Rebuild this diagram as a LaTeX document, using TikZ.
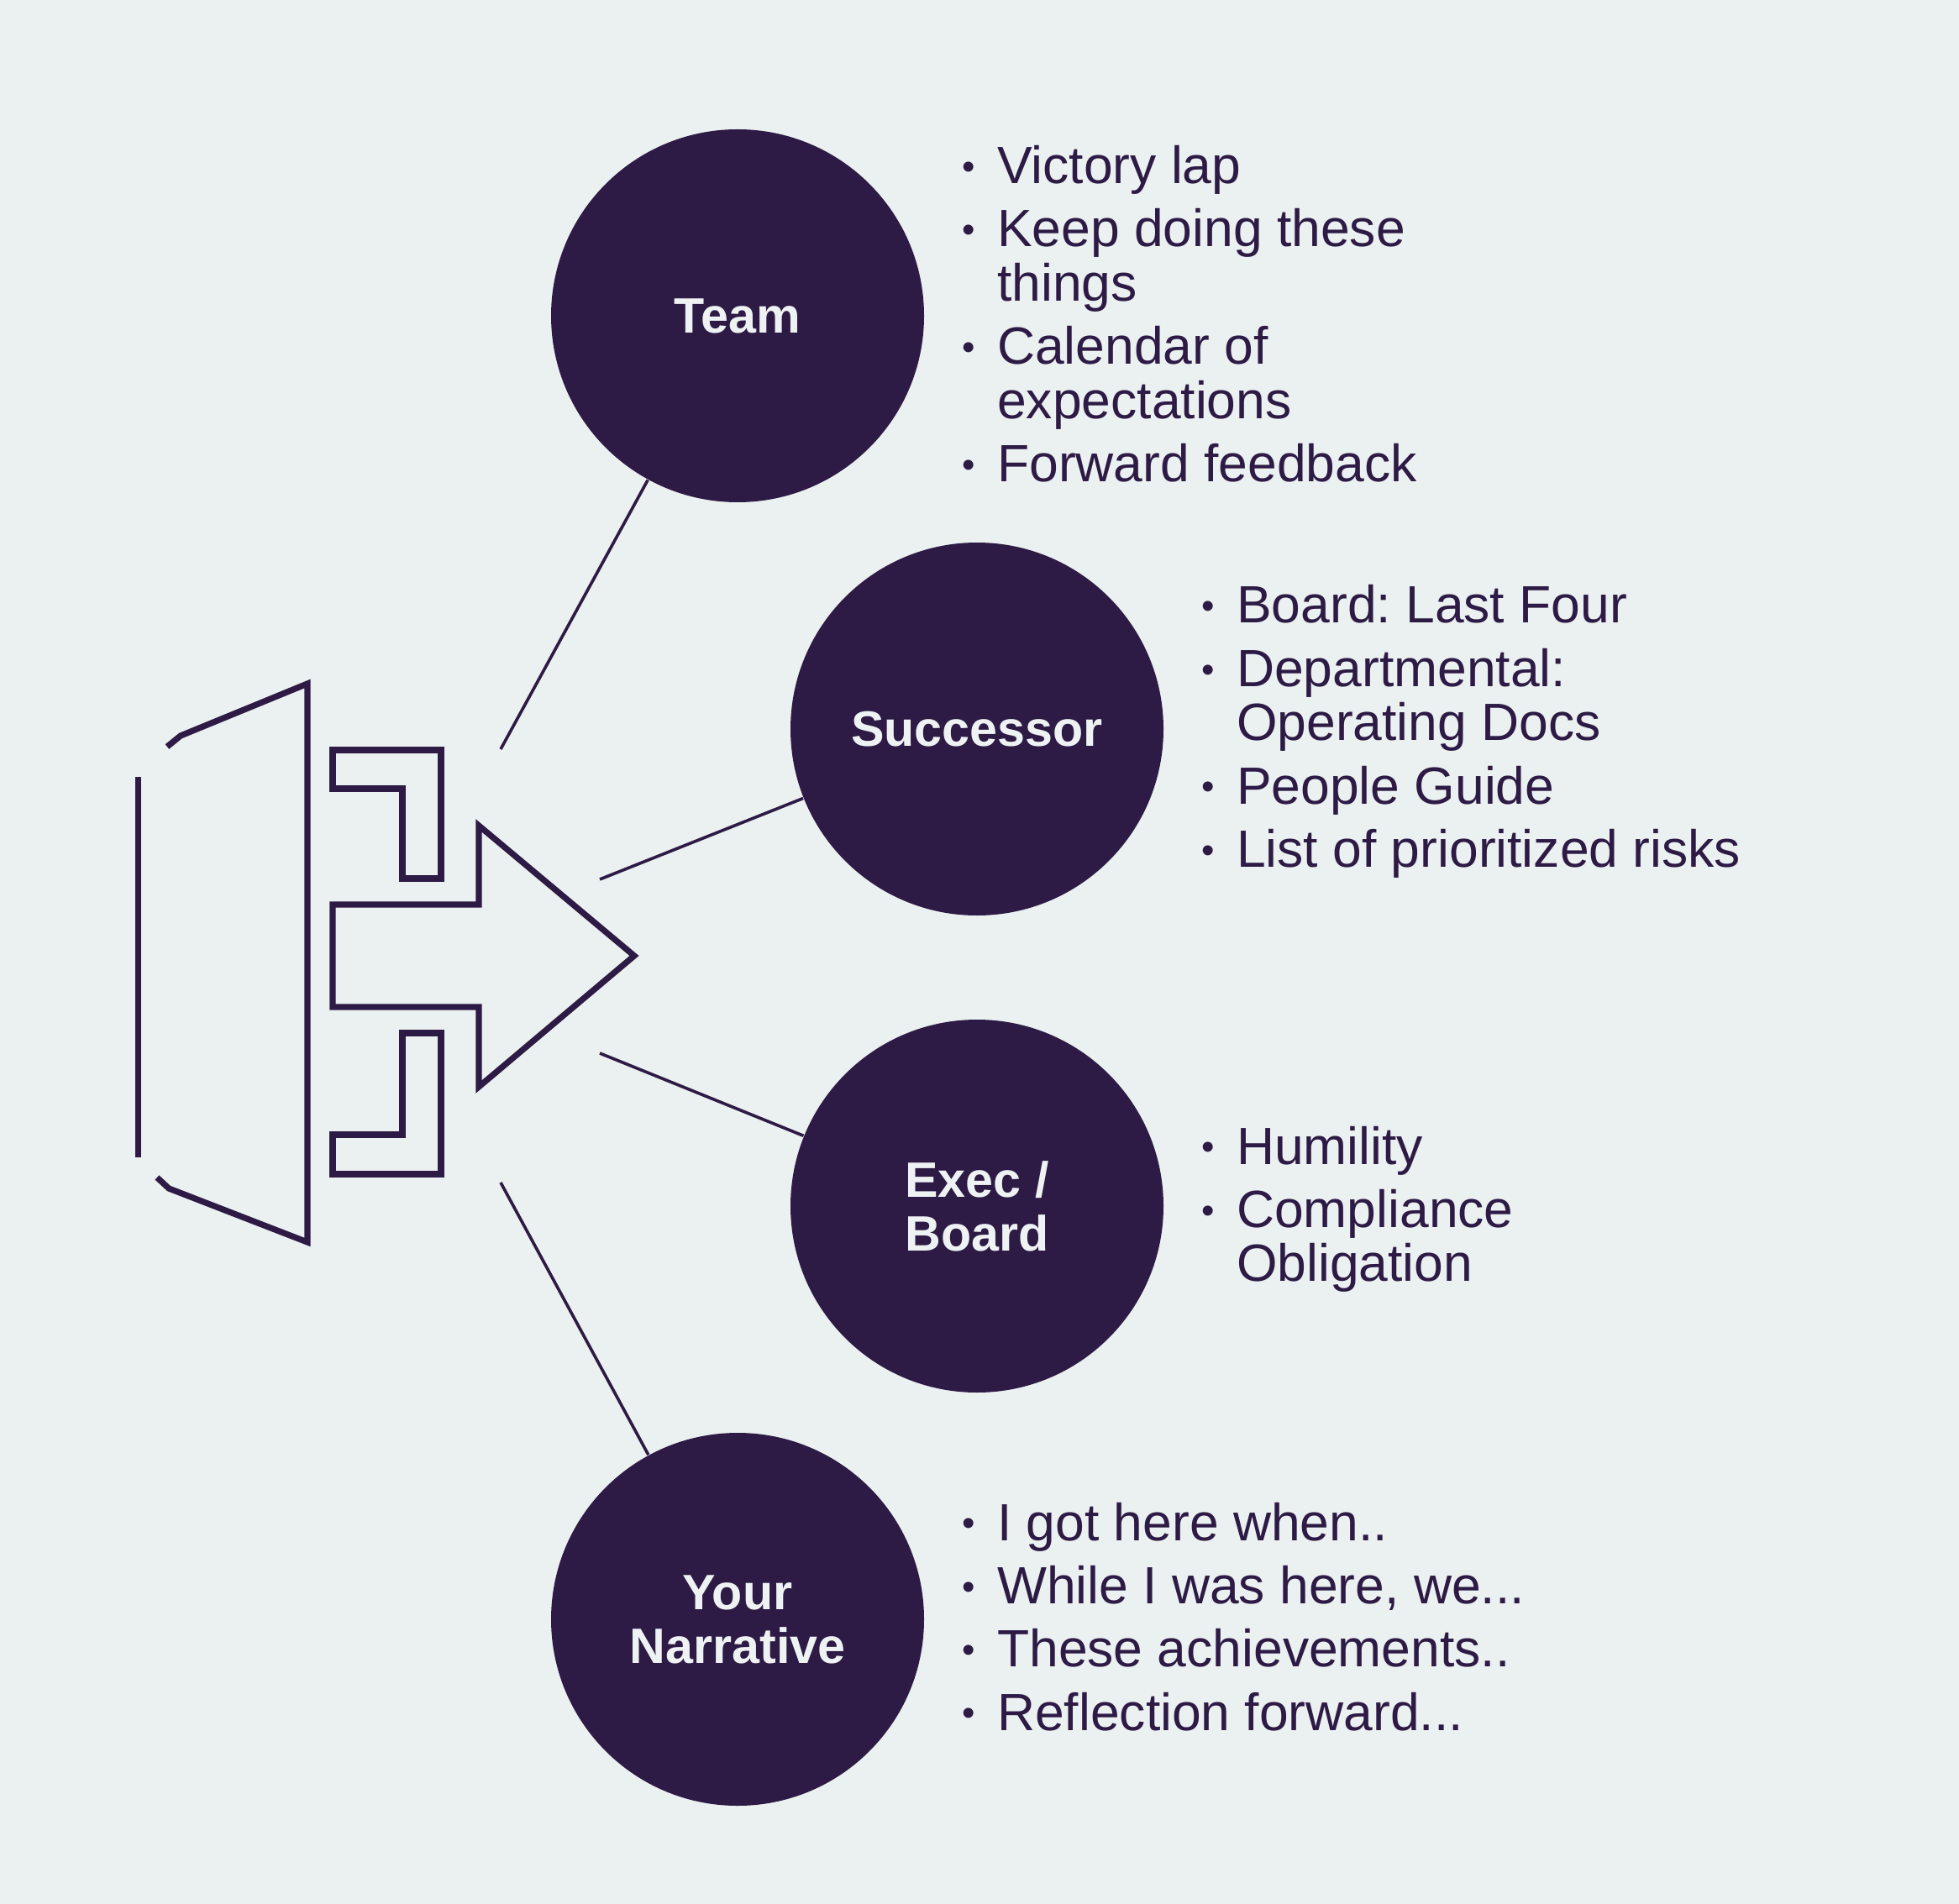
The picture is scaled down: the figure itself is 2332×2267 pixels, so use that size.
\documentclass[tikz,border=0pt]{standalone}
\usepackage{fontspec}
\setmainfont{Liberation Sans}
\usepackage{xcolor}
\usepackage{tikz}
\usetikzlibrary{positioning}
\definecolor{plum}{HTML}{2D1B45}
\definecolor{paper}{HTML}{EBF0F0}
\definecolor{chalk}{HTML}{EEF2F3}
\newcommand{\dotitem}{\raisebox{1.35pt}{\fontsize{11}{11}\selectfont\textbullet}}
\frenchspacing

\begin{document}
\begin{tikzpicture}[
    x=0.25pt,y=-0.25pt,
    hub/.style={circle,fill=plum,minimum size=111pt,inner sep=0pt,align=center,
                text=chalk,font=\bfseries\fontsize{14.8}{16}\selectfont},
    items/.style={anchor=base west,inner sep=0pt,text=plum,
                  font=\fontsize{15.6}{16}\selectfont},
    spoke/.style={draw=plum,line width=0.9pt},
    icon/.style={draw=plum,line width=1.8pt,line join=miter}
  ]

  \fill[paper] (0,0) rectangle (2332,2267);

  % exit icon
  \draw[icon] (199,889) -- (215,876) -- (366,814) -- (366,1479) -- (201,1415) -- (187,1402);
  \draw[icon] (164.5,925) -- (164.5,1378);
  \draw[icon] (396,893) -- (525,893) -- (525,1046) -- (479,1046) -- (479,939) -- (396,939) -- cycle;
  \draw[icon] (396,1077) -- (570,1077) -- (570,983) -- (755,1138) -- (570,1294) -- (570,1199)
              -- (396,1199) -- cycle;
  \draw[icon] (396,1398) -- (525,1398) -- (525,1230) -- (479,1230) -- (479,1351) -- (396,1351) -- cycle;

  % hubs
  \node[hub] (team) at (878,376)  {Team};
  \node[hub] (succ) at (1163,868) {Successor};
  \node[hub] (exec) at (1163,1436) {Exec /\\Board};
  \node[hub] (narr) at (878,1928) {Your\\Narrative};

  % spokes
  \coordinate (s1) at (596,892);
  \coordinate (s2) at (714,1047);
  \coordinate (s3) at (714,1254);
  \coordinate (s4) at (596,1408);
  \draw[spoke] (s1) -- (team);
  \draw[spoke] (s2) -- (succ);
  \draw[spoke] (s3) -- (exec);
  \draw[spoke] (s4) -- (narr);

  % lists
  \node[items] (teamlist) at (1145,218.5) {\begin{tabular}[t]{@{}l@{\hspace{6.5pt}}l@{}}
      \dotitem & Victory lap\\[2.75pt]
      \dotitem & Keep doing these\\
               & things\\[2.75pt]
      \dotitem & Calendar of\\
               & expectations\\[2.75pt]
      \dotitem & Forward feedback
    \end{tabular}};
  \node[items] (succlist) at (1430,742) {\begin{tabular}[t]{@{}l@{\hspace{6.5pt}}l@{}}
      \dotitem & Board: Last Four\\[2.75pt]
      \dotitem & Departmental:\\
               & Operating Docs\\[2.75pt]
      \dotitem & People Guide\\[2.75pt]
      \dotitem & List of prioritized risks
    \end{tabular}};
  \node[items] (execlist) at (1430,1386) {\begin{tabular}[t]{@{}l@{\hspace{6.5pt}}l@{}}
      \dotitem & Humility\\[2.75pt]
      \dotitem & Compliance\\
               & Obligation
    \end{tabular}};
  \node[items] (narrlist) at (1145,1834) {\begin{tabular}[t]{@{}l@{\hspace{6.5pt}}l@{}}
      \dotitem & I got here when..\\[2.75pt]
      \dotitem & While I was here, we...\\[2.75pt]
      \dotitem & These achievements..\\[2.75pt]
      \dotitem & Reflection forward...
    \end{tabular}};

\end{tikzpicture}
\end{document}
